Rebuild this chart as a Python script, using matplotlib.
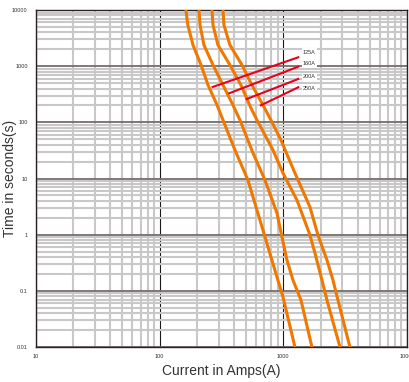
import matplotlib
matplotlib.use("Agg")
import matplotlib.pyplot as plt
from matplotlib.ticker import LogLocator, FixedLocator, FixedFormatter, NullFormatter

plt.rcParams['font.family'] = ['Liberation Sans', 'DejaVu Sans']

# time-current curves (current A, time s)
cur_125 = [163, 169, 186, 216, 246, 291, 325, 406, 517, 647, 794, 993, 1241]
t_125 = [10000, 5400, 2380, 1050, 462, 204, 110, 32.2, 9.4, 1.82, 0.401, 0.0778, 0.01]

cur_160 = [208, 212, 228, 270, 325, 391, 446, 568, 710, 888, 974, 1069, 1196, 1388, 1703]
t_160 = [10000, 5400, 2380, 1050, 462, 204, 110, 28.5, 9.4, 2.43, 0.91, 0.354, 0.156, 0.0687, 0.01]

cur_200 = [265, 270, 296, 370, 454, 547, 612, 710, 824, 993, 1288, 1641, 1801, 2051, 2252, 2869]
t_200 = [10000, 5400, 2380, 1050, 462, 180, 110, 59.6, 32.2, 12.5, 4.14, 0.986, 0.472, 0.156, 0.0687, 0.01]

cur_250 = [325, 331, 370, 463, 557, 684, 809, 956, 1241, 1641, 1905, 2252, 2518, 2763, 3454]
t_250 = [10000, 5400, 2380, 1050, 462, 204, 101, 48.5, 12.5, 3.11, 0.986, 0.354, 0.156, 0.0687, 0.01]

# leader lines: start on curve, end near label
ratings = ['125A', '160A', '200A', '250A']
lead_x0 = [268, 365, 505, 659]
lead_y0 = [426, 329, 260, 201]
lead_x1 = [1320, 1320, 1320, 1320]
lead_y1 = [1438, 979, 591, 421]
label_x = [1440, 1440, 1440, 1440]
label_y = [1786, 1094, 655, 393]

x_ticks = [10, 100, 1000, 10000]
y_ticks = [0.01, 0.1, 1, 10, 100, 1000, 10000]
y_labels = ['0.01', '0.1', '1', '10', '100', '1000', '10000']

fig = plt.figure(figsize=(4.09, 3.82), dpi=100)
ax = fig.add_axes([36 / 409, 35 / 382, 371 / 409, 337 / 382])
ax.set_xscale('log')
ax.set_yscale('log')
ax.set_xlim(10, 10000)
ax.set_ylim(0.01, 10000)

# grid
ax.xaxis.set_minor_locator(LogLocator(base=10, subs=range(2, 10)))
ax.yaxis.set_minor_locator(LogLocator(base=10, subs=range(2, 10)))
ax.grid(which='minor', axis='both', color='#c8c8c8', linewidth=1.5)
ax.grid(which='major', axis='y', color='#756b6b', linewidth=1.3)
ax.grid(which='major', axis='x', color='#1a1a1a', linewidth=0.8)
ax.set_axisbelow(True)

ax.xaxis.set_major_locator(FixedLocator(x_ticks))
ax.xaxis.set_major_formatter(FixedFormatter([str(v) for v in x_ticks]))
ax.yaxis.set_major_locator(FixedLocator(y_ticks))
ax.yaxis.set_major_formatter(FixedFormatter(y_labels))
ax.xaxis.set_minor_formatter(NullFormatter())
ax.yaxis.set_minor_formatter(NullFormatter())
ax.tick_params(which='both', length=0, labelsize=4, labelcolor='#333333')
ax.tick_params(axis='x', pad=5)
ax.tick_params(axis='y', pad=6)

for s in ax.spines.values():
    s.set_color('#2a2020')
    s.set_linewidth(1.0)

orange = '#f07800'
for cx, ty in [(cur_125, t_125), (cur_160, t_160), (cur_200, t_200), (cur_250, t_250)]:
    ax.plot(cx, ty, color=orange, linewidth=2.2, solid_joinstyle='round',
            solid_capstyle='butt', zorder=3)

for i in range(len(ratings)):
    ax.plot([lead_x0[i], lead_x1[i]], [lead_y0[i], lead_y1[i]], color='#e8001c',
            linewidth=1.5, zorder=4)
    ax.text(label_x[i], label_y[i], ratings[i], fontsize=4, color='#333333',
            ha='left', va='center', zorder=5,
            bbox=dict(facecolor='white', edgecolor='none', pad=1.0))

ax.set_xlabel('Current in Amps(A)', fontsize=10, color='#333333', labelpad=4)
fig.text(10 / 409, 1 - 178.5 / 382, 'Time in seconds(s)', fontsize=10, color='#333333',
         rotation=90, ha='center', va='center')

fig.savefig('out.png', dpi=100, facecolor='white')
plt.close()
